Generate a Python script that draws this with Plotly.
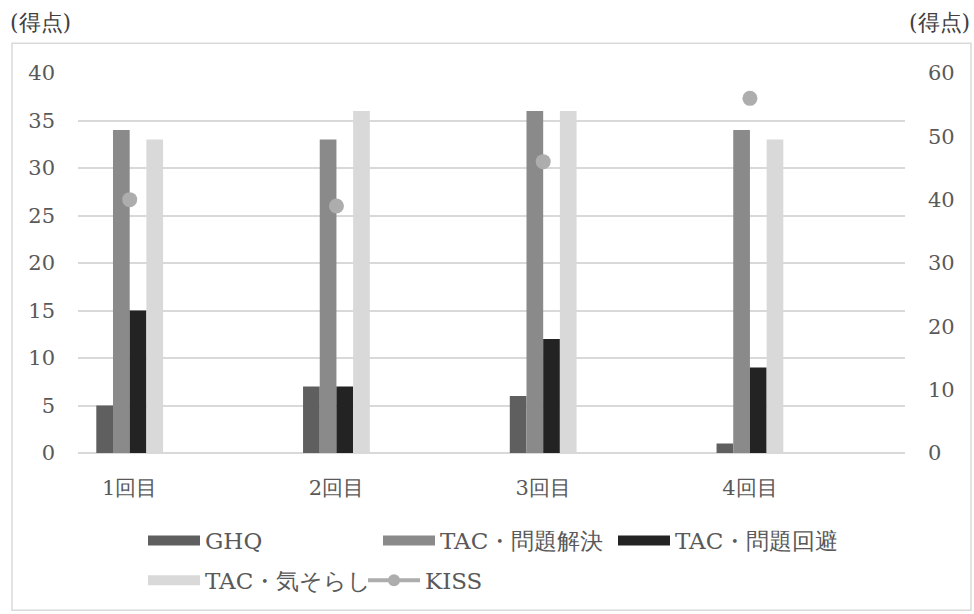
import plotly.graph_objects as go

# Survey rounds and scores
rounds = ["1回目", "2回目", "3回目", "4回目"]
ghq = [5, 7, 6, 1]
tac_solve = [34, 33, 36, 34]
tac_avoid = [15, 7, 12, 9]
tac_distract = [33, 36, 36, 33]
kiss = [40, 39, 46, 56]

bar_series = [
    ("GHQ", ghq, "#5f5f5f"),
    ("TAC・問題解決", tac_solve, "#8a8a8a"),
    ("TAC・問題回避", tac_avoid, "#232323"),
    ("TAC・気そらし", tac_distract, "#d9d9d9"),
]
kiss_color = "#adadad"

FONT = "DejaVu Serif"
TEXT = "#595959"
GRID = "#d9d9d9"

# plot-area geometry (pixels)
W, H = 974, 614
L, R, T, B = 78, 69, 73, 159
PW, PH = W - L - R, H - T - B


def px(x):
    return (x - L) / PW


def py(y):
    return (H - B - y) / PH


fig = go.Figure()

for name, vals, color in bar_series:
    fig.add_trace(go.Bar(
        x=rounds, y=vals, name=name, marker=dict(color=color, line=dict(width=0)),
        showlegend=False, yaxis="y",
    ))

fig.add_trace(go.Scatter(
    x=rounds, y=kiss, name="KISS", mode="markers",
    marker=dict(color=kiss_color, size=15), yaxis="y2", showlegend=False,
))

# legend entries: wide swatches for the bar series, line+dot for KISS
for i, (name, vals, color) in enumerate(bar_series):
    fig.add_trace(go.Scatter(
        x=[None], y=[None], name=name, mode="lines",
        line=dict(color=color, width=10),
        legend="legend" if i < 3 else "legend2",
    ))
fig.add_trace(go.Scatter(
    x=[None], y=[None], name="KISS", mode="lines+markers",
    line=dict(color=kiss_color, width=4), marker=dict(color=kiss_color, size=12),
    legend="legend2",
))

fig.update_layout(
    width=W, height=H,
    margin=dict(l=L, r=R, t=T, b=B),
    paper_bgcolor="white", plot_bgcolor="white",
    font=dict(family=FONT, size=21, color=TEXT),
    barmode="group", bargap=0.677, bargroupgap=0,
    xaxis=dict(
        type="category", range=[-0.25, 3.75], showgrid=False, zeroline=False,
        showline=False, ticks="", ticklabelstandoff=20,
        tickfont=dict(family=FONT, size=21, color=TEXT),
    ),
    yaxis=dict(
        range=[0, 40], tickvals=[0, 5, 10, 15, 20, 25, 30, 35, 40],
        showgrid=True, gridcolor=GRID, gridwidth=2,
        zeroline=True, zerolinecolor=GRID, zerolinewidth=2,
        showline=False, ticks="", ticklabelstandoff=22,
        tickfont=dict(family=FONT, size=21, color=TEXT),
    ),
    yaxis2=dict(
        range=[0, 60], tickvals=[0, 10, 20, 30, 40, 50, 60],
        overlaying="y", side="right", showgrid=False, zeroline=False,
        showline=False, ticks="", ticklabelstandoff=22,
        tickfont=dict(family=FONT, size=21, color=TEXT),
    ),
    legend=dict(
        orientation="h", x=px(143), xanchor="left", y=py(543), yanchor="middle",
        entrywidth=168, entrywidthmode="pixels", bgcolor="rgba(0,0,0,0)",
        font=dict(family=FONT, size=23, color=TEXT), itemwidth=52,
    ),
    legend2=dict(
        orientation="h", x=px(143), xanchor="left", y=py(583), yanchor="middle",
        entrywidth=153, entrywidthmode="pixels", bgcolor="rgba(0,0,0,0)",
        font=dict(family=FONT, size=23, color=TEXT), itemwidth=52,
    ),
    shapes=[dict(
        type="rect", xref="paper", yref="paper",
        x0=px(12), x1=px(971), y0=py(613), y1=py(43),
        line=dict(color=GRID, width=1.5), fillcolor="rgba(0,0,0,0)", layer="below",
    )],
    annotations=[
        dict(text="(得点)", xref="paper", yref="paper", x=px(8), y=py(22),
             xanchor="left", yanchor="middle", showarrow=False,
             font=dict(family=FONT, size=22, color="#404040")),
        dict(text="(得点)", xref="paper", yref="paper", x=px(972), y=py(22),
             xanchor="right", yanchor="middle", showarrow=False,
             font=dict(family=FONT, size=22, color="#404040")),
    ],
)

fig.write_html("out.html")
